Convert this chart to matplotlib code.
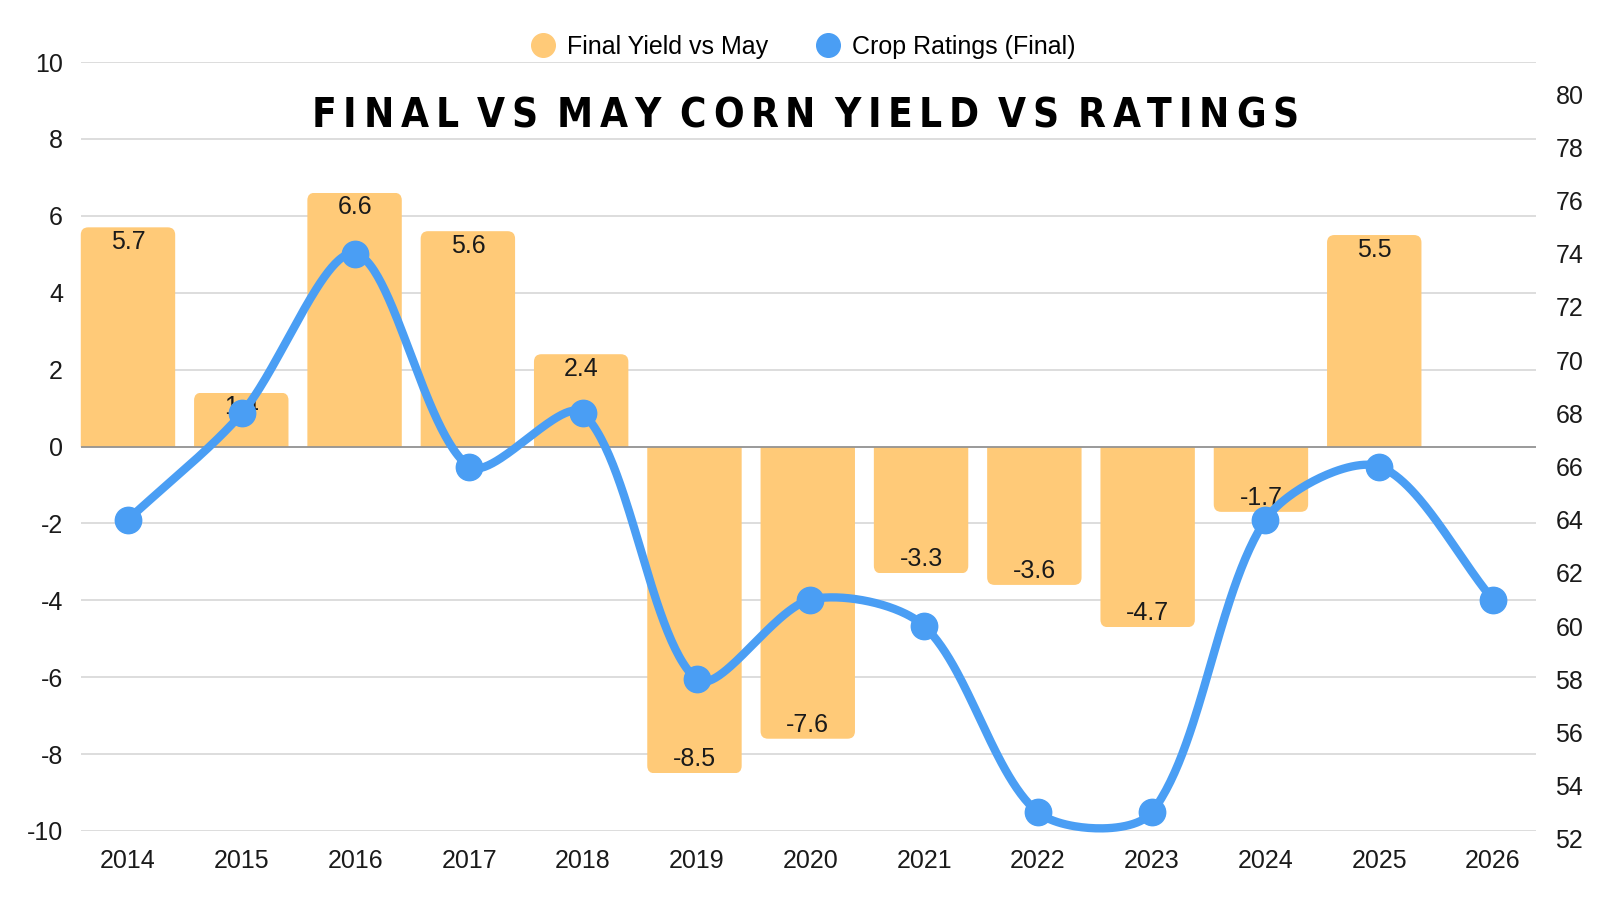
import numpy as np
import matplotlib
matplotlib.use("Agg")
import matplotlib.pyplot as plt
from matplotlib.patches import FancyBboxPatch, Rectangle
from matplotlib.lines import Line2D
from matplotlib.font_manager import FontProperties, findfont

# data
years = ["2014", "2015", "2016", "2017", "2018", "2019", "2020",
         "2021", "2022", "2023", "2024", "2025", "2026"]
yield_vs_may = [5.7, 1.4, 6.6, 5.6, 2.4, -8.5, -7.6, -3.3, -3.6, -4.7, -1.7, 5.5]
crop_ratings = [64, 68, 74, 66, 68, 58, 61, 60, 53, 53, 64, 66, 61]
left_ticks = list(range(-10, 11, 2))
right_ticks = list(range(52, 81, 2))

BAR_COLOR = "#FFCA78"
LINE_COLOR = "#4A9EF4"
TEXT_COLOR = "#1a1a1a"
FS = 18

plt.rcParams["font.family"] = ["Liberation Sans", "DejaVu Sans"]

W, H = 1600, 900
fig = plt.figure(figsize=(16, 9), dpi=100)

# pixel layout of the plot area
ax_left, ax_right = 81, 1536
ax_top, ax_bot = 62, 831
ax = fig.add_axes([ax_left / W, 1 - ax_bot / H, (ax_right - ax_left) / W, (ax_bot - ax_top) / H])

# right axis runs 52 (y=839) to 80 (y=94)
r_top, r_bot = 94, 839
ax2 = fig.add_axes([ax_left / W, 1 - r_bot / H, (ax_right - ax_left) / W, (r_bot - r_top) / H])
ax2.patch.set_visible(False)

x = np.arange(len(years))
xlim = (-0.413, 12.378)
ax.set_xlim(*xlim)
ax2.set_xlim(*xlim)
ax.set_ylim(-10, 10)
ax2.set_ylim(52, 80)

# grid
for t in left_ticks:
    ax.axhline(t, color="#DADADA", lw=1.3, zorder=0)
ax.axhline(0, color="#8f8f8f", lw=1.2, zorder=2)

# bars with rounded outer ends, square base at zero
px_x = (ax_right - ax_left) / (xlim[1] - xlim[0])
px_y = (ax_bot - ax_top) / 20.0
rad = 7.5 / px_x
rad_y = 7.5 / px_y
bar_x = x[:len(yield_vs_may)] * 0.996
bars = ax.bar(bar_x, yield_vs_may, width=0.83, color=BAR_COLOR, zorder=1)
for b, v in zip(bars, yield_vs_may):
    b.set_visible(False)
    bx, bw = b.get_x(), b.get_width()
    if v >= 0:
        y0, y1 = -2 * rad_y, v
    else:
        y0, y1 = v, 2 * rad_y
    fp = FancyBboxPatch((bx, y0), bw, y1 - y0,
                        boxstyle="round,pad=0,rounding_size=%f" % rad,
                        mutation_aspect=px_x / px_y,
                        fc=BAR_COLOR, ec="none", zorder=1)
    ax.add_patch(fp)
    clip = Rectangle((bx - 0.05, min(0, v)), bw + 0.1, abs(v), transform=ax.transData)
    fp.set_clip_path(clip)
    off = -10.5 if v >= 0 else 10
    ax.annotate("%.1f" % v, (bx + bw / 2, v), xytext=(0, off), textcoords="offset points",
                ha="center", va="center", fontsize=FS, color=TEXT_COLOR, zorder=3)


def smooth_curve(xs, ys, sx, sy, tension=0.3, n=60):
    # chart.js style bezier spline, computed in pixel space
    p = np.column_stack([np.asarray(xs, float) * sx, np.asarray(ys, float) * sy])
    k = len(p)
    cp_prev = np.zeros_like(p)
    cp_next = np.zeros_like(p)
    for i in range(k):
        a = p[i - 1] if i > 0 else p[i]
        c = p[i + 1] if i < k - 1 else p[i]
        d01 = np.hypot(*(p[i] - a))
        d12 = np.hypot(*(c - p[i]))
        tot = d01 + d12
        s01 = d01 / tot if tot else 0
        s12 = d12 / tot if tot else 0
        cp_prev[i] = p[i] - tension * s01 * (c - a)
        cp_next[i] = p[i] + tension * s12 * (c - a)
    out = []
    t = np.linspace(0, 1, n)[:, None]
    for i in range(k - 1):
        b0, b1, b2, b3 = p[i], cp_next[i], cp_prev[i + 1], p[i + 1]
        seg = (1 - t) ** 3 * b0 + 3 * (1 - t) ** 2 * t * b1 + 3 * (1 - t) * t ** 2 * b2 + t ** 3 * b3
        out.append(seg)
    out = np.vstack(out)
    return out[:, 0] / sx, out[:, 1] / sy


cx, cy = smooth_curve(x, crop_ratings, px_x, (r_bot - r_top) / 28.0)
ax2.plot(cx, cy, color=LINE_COLOR, lw=6, solid_capstyle="round", zorder=4, clip_on=False)
ax2.plot(x, crop_ratings, "o", color=LINE_COLOR, ms=19, zorder=5, clip_on=False)

# axes styling
for a in (ax, ax2):
    for s in a.spines.values():
        s.set_visible(False)
    a.tick_params(length=0, labelsize=FS, colors=TEXT_COLOR)

ax.set_yticks(left_ticks)
ax.set_yticklabels([str(t) for t in left_ticks])
ax.tick_params(axis="y", pad=13)
ax.set_xticks(x)
ax.set_xticklabels(years)
ax.tick_params(axis="x", pad=13)

ax2.set_xticks([])
ax2.yaxis.tick_right()
ax2.set_yticks(right_ticks)
ax2.set_yticklabels([str(t) for t in right_ticks])
ax2.tick_params(axis="y", pad=14)

# title with wide letter spacing, in a narrow face if one is installed
title = "FINAL VS MAY CORN YIELD VS RATINGS"
fam = ["Liberation Sans Narrow", "DejaVu Sans"]
fpath = findfont(FontProperties(family=fam, weight="bold", stretch="condensed"))
narrow = ("Narrow" in fpath) or ("Condensed" in fpath)
tfont = dict(fontsize=29 if narrow else 24, fontweight="bold", fontstretch="condensed",
             family=fam, color="#000000")
renderer = fig.canvas.get_renderer()
widths = []
for ch in title:
    if ch == " ":
        widths.append(None)
        continue
    tt = fig.text(0, 0, ch, **tfont)
    widths.append(tt.get_window_extent(renderer).width)
    tt.remove()
letters = [w for w in widths if w is not None]
n_space = title.count(" ")
target = 987.0
track = max(3.0, (target - sum(letters)) / (len(letters) - 1 + 1.8 * n_space))
space = 1.8 * track
xpos = 805 - (sum(letters) + track * (len(letters) - 1) + space * n_space) / 2
for ch, w in zip(title, widths):
    if w is None:
        xpos += space
        continue
    fig.text(xpos / W, 1 - 116 / H, ch, ha="left", va="center", **tfont)
    xpos += w + track

# legend
handles = [Line2D([], [], ls="none", marker="o", ms=17, color=BAR_COLOR),
           Line2D([], [], ls="none", marker="o", ms=17, color=LINE_COLOR)]
fig.legend(handles, ["Final Yield vs May", "Crop Ratings (Final)"], loc="center",
           bbox_to_anchor=(803 / W, 1 - 47 / H), ncol=2, frameon=False, fontsize=FS,
           handlelength=1.0, handletextpad=0.45, columnspacing=1.9)

fig.savefig("out.png", dpi=100, facecolor="white")
